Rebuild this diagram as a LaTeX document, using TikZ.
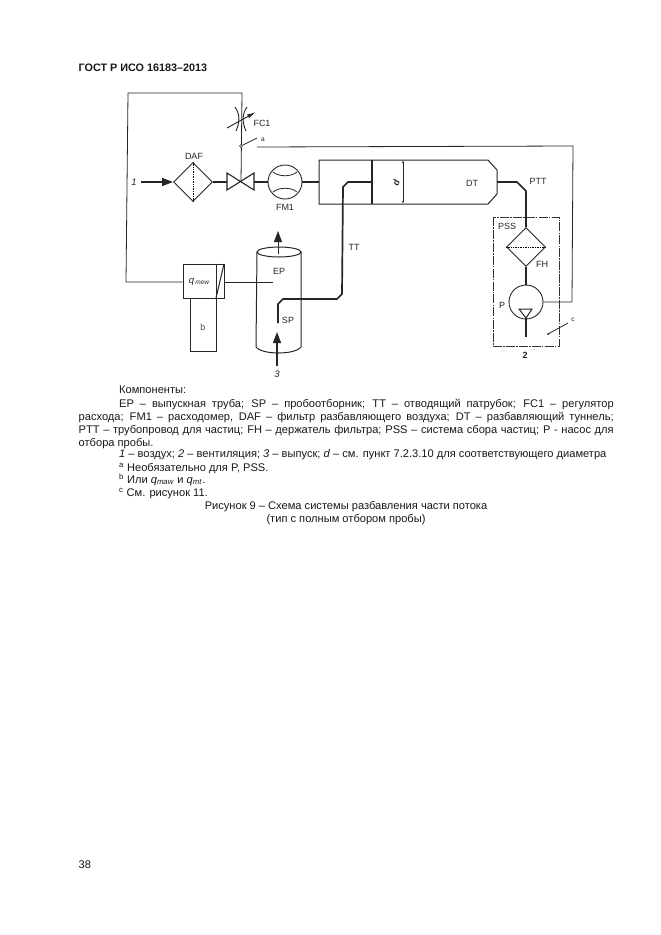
\documentclass[tikz,border=0pt]{standalone}
\usepackage{fontspec}
\setmainfont{Liberation Sans}
\usetikzlibrary{arrows.meta,shapes.geometric}
\tikzset{
    pipe/.style={line width=0.8pt, black!85},
    thickpipe/.style={line width=1.7pt, black!85},
    flowarrow/.style={line width=1.3pt, black!85, -{Triangle[length=11pt,width=8pt]}},
    filterbox/.style={diamond, draw=black!85, line width=0.9pt, minimum width=39pt, minimum height=39pt, inner sep=0pt},
    roundbox/.style={circle, draw=black!85, line width=0.9pt, minimum size=34pt, inner sep=0pt},
    lab/.style={font=\fontsize{9}{10}\selectfont, inner sep=0pt, text=black!85},
    smalllab/.style={font=\fontsize{6.5}{7}\selectfont, inner sep=0pt, text=black!85},
    pagetext/.style={font=\fontsize{11.1}{13}\selectfont, inner sep=0pt, anchor=base west, text=black!90},
}
\begin{document}
\begin{tikzpicture}[x=1pt, y=-1pt]
    \useasboundingbox (0,0) rectangle (661,935);
    \fill[white] (0,0) rectangle (661,935);
    % page head and number
    \node[pagetext, font=\fontsize{10.8}{13}\selectfont\bfseries] (head) at (78.5,71) {ГОСТ Р ИСО 16183–2013};
    \node[pagetext] (pageno) at (78.5,868) {38};
    % inlet line
    \node[filterbox] (DAF) at (193,182) {};
    \node[lab] (DAFlab) at (194,156) {DAF};
    \node[lab, font=\fontsize{9.5}{10}\selectfont\itshape] (inA) at (134,182) {1};
    \coordinate (inB) at (141,182);
    \draw[flowarrow] (inB) -- (DAF.west);
    \draw[line width=0.7pt, densely dotted] (DAF.north) -- (DAF.south);
    % valve
    \coordinate (VL) at (227,182);
    \coordinate (VC) at (241,182);
    \coordinate (VR) at (254,182);
    \draw[pipe, line width=1.1pt, line join=miter] (227,173) -- (254,190) -- (254,173) -- (227,190) -- cycle;
    \draw[pipe, line width=1.1pt] (DAF.east) -- (VL);
    % flow meter
    \node[roundbox] (FM) at (285,182) {};
    \node[lab] (FMlab) at (285,207) {FM1};
    \draw[pipe] (273,172) .. controls (279,177) and (291,177) .. (297,172);
    \draw[pipe] (273,192) .. controls (279,187) and (291,187) .. (297,192);
    \draw[pipe, line width=1.1pt] (VR) -- (FM.west);
    % control loop
    \coordinate (LT) at (242,93);
    \coordinate (LL) at (128,93);
    \coordinate (LB) at (126,282);
    \node[draw=black!85, line width=0.9pt, minimum width=41pt, minimum height=34pt, inner sep=0pt] (QB) at (203.5,281) {};
    \node[lab, font=\fontsize{9.5}{9}\selectfont\itshape] (QBlab) at (199,282) {q\hspace{1pt}\raisebox{-0.5pt}{\fontsize{6.5}{7}\selectfont mew}};
    \draw[pipe] (VC) -- (LT) -- (LL) -- (LB) -- (QB.west |- LB);
    \draw[pipe] (216,264) -- (216,298);
    \draw[pipe, line width=1pt] (216,298) -- (224,264);
    \node[draw=black!85, line width=0.9pt, minimum width=26pt, minimum height=53pt, inner sep=0pt, anchor=north west] (BB) at (190,298) {};
    \node[lab, text=black!70] (BBlab) at (203,327) {b};
    % restrictor
    \draw[pipe, line width=0.9pt] (235,107) .. controls (240,114) and (240,122) .. (236,131);
    \draw[pipe, line width=0.9pt] (247,107) .. controls (242,114) and (242,122) .. (246,131);
    \draw[line width=0.9pt, black!85, -{Latex[length=9pt,width=4pt]}] (227,128) -- (256,112);
    \node[lab] (FClab) at (262,123) {FC1};
    % switch
    \node[circle, draw=black!85, fill=white, line width=0.5pt, minimum size=3pt, inner sep=0pt] (SW) at (241,146) {};
    \coordinate (SWend) at (257,138);
    \draw[pipe] (SW) -- (SWend);
    \node[smalllab] (alab) at (263,140) {a};
    % dilution tunnel
    \coordinate (TL) at (319,160);
    \coordinate (TW) at (372,160);
    \coordinate (TB) at (319,204);
    \coordinate (TWb) at (372,204);
    \coordinate (TE) at (497,182);
    \draw[pipe, line width=1pt] (TL) -- (488,160) -- (497,170) -- (497,194) -- (488,204) -- (TB) -- cycle;
    \draw[pipe, line width=1.4pt] (TW) -- (TWb);
    \draw[pipe, line width=1.1pt] (FM.east) -- (319,182);
    \draw[pipe, <->, >={Latex[length=3pt,width=2pt]}] (403,160) -- (403,204);
    \node[lab, font=\fontsize{9}{9}\selectfont\itshape\bfseries, rotate=70] (dlab) at (396,183) {d};
    \node[lab] (DTlab) at (472,183) {DT};
    % exhaust pipe
    \coordinate (EPc) at (279,252);
    \draw[pipe, line width=1pt] (EPc) ellipse [x radius=22, y radius=5];
    \draw[pipe, line width=1pt] (257,252) -- (256,347) .. controls (262,355) and (295,355) .. (301,347) -- (301,252);
    \coordinate (EPa) at (278,254);
    \coordinate (EPb) at (278,231);
    \draw[flowarrow, line width=0.9pt] (EPa) -- (EPb);
    \node[lab] (EPlab) at (279,271) {EP};
    \coordinate (EPin) at (273,282);
    \draw[pipe] (QB.east |- EPin) -- (EPin);
    % probe and transfer tube
    \node[lab] (SPlab) at (288,320) {SP};
    \node[lab, font=\fontsize{9.5}{10}\selectfont\itshape] (outlet) at (277,374) {3};
    \draw[flowarrow] (277,366) -- (277,332);
    \coordinate (SPa) at (278,323);
    \coordinate (TTend) at (372,182);
    \draw[thickpipe, line join=round] (SPa) -- (278,304) -- (283,299) -- (337,299) -- (342,294) -- (343,187) -- (348,182) -- (TTend);
    \node[lab] (TTlab) at (354,247) {TT};
    % sampling system
    \draw[line width=0.8pt, black!80, dash pattern=on 9pt off 1.2pt on 1.5pt off 1.2pt] (493,217) rectangle (559,346);
    \node[lab] (PSSlab) at (507,226) {PSS};
    \node[filterbox] (FH) at (526,247) {};
    \draw[line width=0.7pt, densely dotted] (FH.west) -- (FH.east);
    \node[lab] (FHlab) at (542,264) {FH};
    \node[roundbox] (Pmp) at (526,302) {};
    \node[lab] (Plab) at (502,305) {P};
    \draw[pipe, line width=1pt] (519,309) -- (532,309) -- (526,318) -- cycle;
    \coordinate (PmpOut) at (526,337);
    \draw[thickpipe, line width=1.2pt] (526,318) -- (PmpOut);
    \draw[thickpipe, line join=round] (TE) -- (517,182) -- (526,191) -- (FH.north);
    \node[lab] (PTTlab) at (538,181) {PTT};
    \draw[pipe, line width=1.2pt] (FH.south) -- (Pmp.north);
    \coordinate (RetA) at (572,302);
    \coordinate (RetB) at (573,146);
    \coordinate (RetC) at (257,147);
    \draw[pipe] (Pmp.east) -- (RetA) -- (RetB) -- (RetC);
    \fill[black!85] (548,334) circle (1pt) coordinate (cdot);
    \coordinate (cend) at (568,323);
    \draw[pipe] (cdot) -- (cend);
    \node[smalllab] (clab) at (573,320) {c};
    \node[lab, font=\fontsize{9}{10}\selectfont\bfseries] (vent) at (525,355) {2};
    % text under the figure
    \node[pagetext] (comp) at (119,393) {Компоненты:};
    \node[pagetext, anchor=north west, text width=535pt, align=justify] (para) at (78.5,399.5) {\hspace*{40.5pt}EP – выпускная труба; SP – пробоотборник; TT – отводящий патрубок; FC1 – регулятор\linebreak расхода; FM1 – расходомер, DAF – фильтр разбавляющего воздуха; DT – разбавляющий туннель;\linebreak PTT – трубопровод для частиц; FH – держатель фильтра; PSS – система сбора частиц; P - насос для\linebreak отбора пробы.};
    \node[pagetext] (keys) at (119,457) {\textit{1} – воздух; \textit{2} – вентиляция; \textit{3} – выпуск; \textit{d} – см. пункт 7.2.3.10 для соответствующего диаметра};
    \node[pagetext] (noteA) at (119,471) {\textsuperscript{a} Необязательно для P, PSS.};
    \node[pagetext] (noteB) at (119,483) {\textsuperscript{b} Или \textit{q}\textsubscript{\textit{maw}} и \textit{q}\textsubscript{\textit{mt}}.};
    \node[pagetext] (noteC) at (119,496) {\textsuperscript{c} См. рисунок 11.};
    \node[pagetext, anchor=base] (capA) at (346,509) {Рисунок 9 – Схема системы разбавления части потока};
    \node[pagetext, anchor=base] (capB) at (346,522) {(тип с полным отбором пробы)};
\end{tikzpicture}
\end{document}
